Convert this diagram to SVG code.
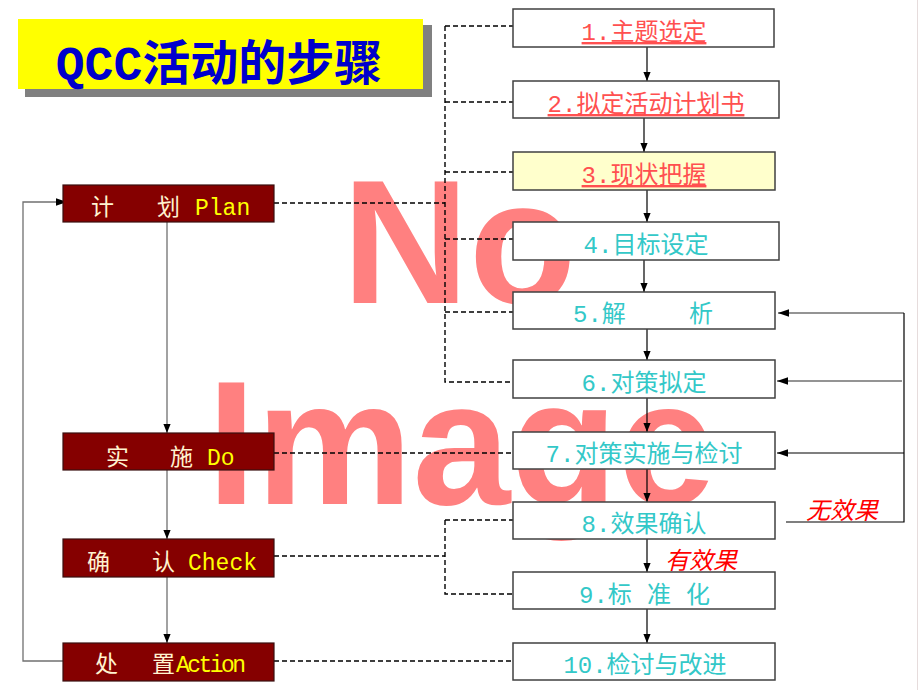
<svg xmlns="http://www.w3.org/2000/svg" width="920" height="690" viewBox="0 0 920 690">
<defs>
<style>
.step{fill:#fff;stroke:#404040;stroke-width:1.5}
.pdca{fill:#850000;stroke:#3a1010;stroke-width:1.2}
.st{font-family:"Liberation Mono","Noto Sans CJK SC",monospace;font-size:24px}
.red{fill:#FF5050;text-decoration:underline}
.teal{fill:#33C8C8}
.pt{font-family:"Liberation Mono","Noto Sans CJK SC",monospace;font-size:23px}
.cn{fill:#FFF3D0}
.en{fill:#FFFF00}
.dash{fill:none;stroke:#000;stroke-width:1.4;stroke-dasharray:5 3}
.flow{fill:none;stroke:#000;stroke-width:1.2}
.gflow{fill:none;stroke:#707070;stroke-width:1.3}
.lbl{font-family:"Noto Sans CJK SC",sans-serif;font-size:24px;font-style:italic;fill:#FF0000}
</style>
<marker id="ah" viewBox="0 0 10 10" refX="10" refY="5" markerWidth="9" markerHeight="9" markerUnits="userSpaceOnUse" orient="auto">
<path d="M0,1 L10,5 L0,9 z" fill="#000"/>
</marker>
<marker id="ahl" viewBox="0 0 10 10" refX="10" refY="5" markerWidth="11" markerHeight="11" markerUnits="userSpaceOnUse" orient="auto">
<path d="M0,1.5 L10,5 L0,8.5 z" fill="#000"/>
</marker>
</defs>
<rect width="920" height="690" fill="#fff"/>
<line x1="917.5" y1="0" x2="917.5" y2="690" stroke="#E6DCDC" stroke-width="1"/>
<g id="watermark" font-family="'Liberation Sans',Arial,sans-serif" font-weight="bold" font-size="176" fill="#FF8080">
<text x="342" y="303">No</text>
<text x="207" y="504">Image</text>
</g>
<g id="title">
<rect x="25" y="25" width="407" height="72" fill="#808080"/>
<rect x="18" y="19" width="405" height="70" fill="#FFFF00"/>
<text x="219" y="80" text-anchor="middle" font-family="'Liberation Mono','Noto Sans CJK SC',monospace" font-size="48" font-weight="bold" fill="#0000CC">QCC活动的步骤</text>
</g>
<g id="connectors">
<path class="dash" d="M445,26 V382 H513 M445,26 H513 M445,102 H513 M445,172 H513 M445,239 H513 M445,312 H513 M274,203 H445"/>
<path class="dash" d="M274,453 H513 M274,556 H445 M445,520 V594 H513 M445,520 H513 M274,661 H513"/>
<path class="flow" marker-end="url(#ah)" d="M647,47 V81"/>
<path class="flow" marker-end="url(#ah)" d="M644,118 V152"/>
<path class="flow" marker-end="url(#ah)" d="M647,190 V222"/>
<path class="flow" marker-end="url(#ah)" d="M644,260 V292"/>
<path class="flow" marker-end="url(#ah)" d="M647,329 V360"/>
<path class="flow" marker-end="url(#ah)" d="M647,398 V432"/>
<path class="flow" marker-end="url(#ah)" d="M647,469 V502"/>
<path class="flow" marker-end="url(#ah)" d="M647,539 V572"/>
<path class="flow" marker-end="url(#ah)" d="M647,609 V643"/>
<path class="gflow" marker-end="url(#ahl)" d="M904,313 H778"/>
<path class="gflow" marker-end="url(#ahl)" d="M902,381 H777"/>
<path class="flow" marker-end="url(#ahl)" d="M904,453 H777"/>
<path class="flow" d="M786,522 H904 V313"/>
<path class="gflow" marker-end="url(#ah)" d="M167,222 V433"/>
<path class="gflow" marker-end="url(#ah)" d="M167,470 V539"/>
<path class="gflow" marker-end="url(#ah)" d="M167,577 V643"/>
<path class="gflow" marker-end="url(#ahl)" d="M63,661 H23 V202 H67"/>
</g>
<g id="s1"><rect class="step" x="513" y="9" width="261" height="38"/><text class="st red" x="644" y="40" text-anchor="middle">1.主题选定</text></g>
<g id="s2"><rect class="step" x="513" y="81" width="266" height="37"/><text class="st red" x="646" y="112" text-anchor="middle">2.拟定活动计划书</text></g>
<g id="s3"><rect class="step" x="513" y="152" width="262" height="38" style="fill:#FFFFCC"/><text class="st red" x="644" y="183" text-anchor="middle">3.现状把握</text></g>
<g id="s4"><rect class="step" x="513" y="222" width="266" height="38"/><text class="st teal" x="646" y="253" text-anchor="middle">4.目标设定</text></g>
<g id="s5"><rect class="step" x="513" y="292" width="262" height="37"/><text class="st teal" y="322"><tspan x="573">5.解</tspan><tspan x="689">析</tspan></text></g>
<g id="s6"><rect class="step" x="513" y="360" width="262" height="38"/><text class="st teal" x="644" y="391" text-anchor="middle">6.对策拟定</text></g>
<g id="s7"><rect class="step" x="513" y="432" width="262" height="37"/><text class="st teal" x="644" y="462" text-anchor="middle">7.对策实施与检讨</text></g>
<g id="s8"><rect class="step" x="513" y="502" width="262" height="37"/><text class="st teal" x="644" y="532" text-anchor="middle">8.效果确认</text></g>
<g id="s9"><rect class="step" x="513" y="572" width="262" height="37"/><text class="st teal" y="603"><tspan x="579">9.标</tspan><tspan x="647">准</tspan><tspan x="686">化</tspan></text></g>
<g id="s10"><rect class="step" x="513" y="643" width="262" height="37"/><text class="st teal" x="645" y="673" text-anchor="middle">10.检讨与改进</text></g>
<g id="plan"><rect class="pdca" x="63" y="185" width="211" height="37"/><text class="pt" y="215"><tspan class="cn" x="91">计</tspan><tspan class="cn" x="157">划</tspan><tspan class="en" x="195">Plan</tspan></text></g>
<g id="do"><rect class="pdca" x="63" y="433" width="211" height="37"/><text class="pt" y="465"><tspan class="cn" x="106">实</tspan><tspan class="cn" x="170">施</tspan><tspan class="en" x="207">Do</tspan></text></g>
<g id="check"><rect class="pdca" x="63" y="539" width="211" height="38"/><text class="pt" y="570"><tspan class="cn" x="87">确</tspan><tspan class="cn" x="152">认</tspan><tspan class="en" x="188">Check</tspan></text></g>
<g id="action"><rect class="pdca" x="63" y="643" width="211" height="38"/><text class="pt" y="672"><tspan class="cn" x="95">处</tspan><tspan class="cn" x="152">置</tspan><tspan class="en" x="176" textLength="70">Action</tspan></text></g>
<g id="labels">
<text class="lbl" x="806" y="519">无效果</text>
<text class="lbl" x="665" y="569">有效果</text>
</g>
</svg>
